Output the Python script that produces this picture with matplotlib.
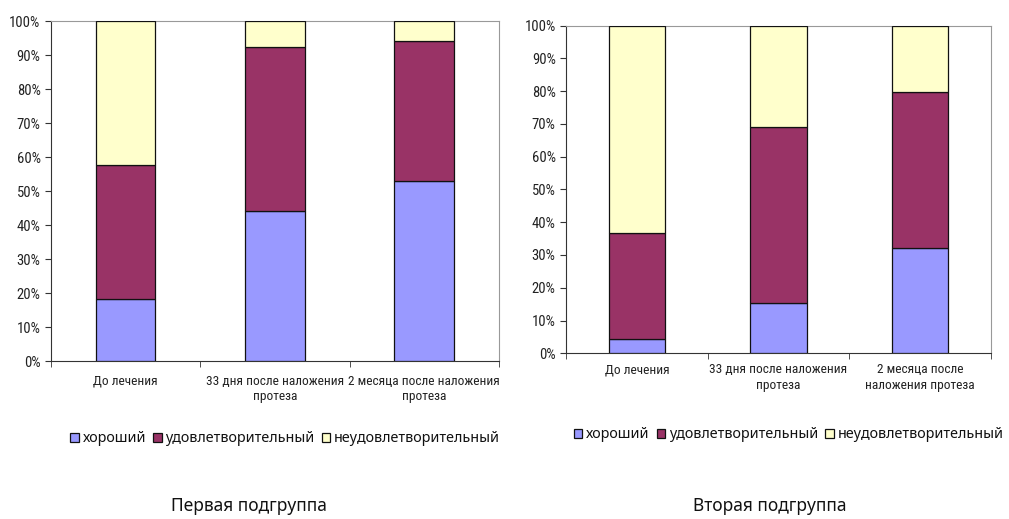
import numpy as np
import matplotlib.pyplot as plt
from matplotlib.ticker import PercentFormatter
from matplotlib import font_manager

categories_1 = ['До лечения', '33 дня после наложения\nпротеза', '2 месяца после наложения\nпротеза']
categories_2 = ['До лечения', '33 дня после наложения\nпротеза', '2 месяца после\nналожения протеза']

# доли оценок, %
good_1 = [18.1, 44.0, 52.9]
fair_1 = [39.5, 48.5, 41.1]
poor_1 = [42.4, 7.5, 6.0]

good_2 = [4.3, 15.3, 32.1]
fair_2 = [32.3, 53.7, 47.7]
poor_2 = [63.4, 31.0, 20.2]

series_names = ['хороший', 'удовлетворительный', 'неудовлетворительный']
colors = ['#9999FF', '#993366', '#FFFFCC']
titles = ['Первая подгруппа', 'Вторая подгруппа']

names = {f.name for f in font_manager.fontManager.ttflist}
tick_font = 'Liberation Sans'
for cand in ['Liberation Sans Narrow', 'Roboto Condensed', 'Open Sans Condensed']:
    if cand in names:
        tick_font = cand
        break
narrow = tick_font != 'Liberation Sans'
tick_size = 9.6 if narrow else 8.6
ytick_size = 10.5 if narrow else 9.5

fig = plt.figure(figsize=(10.09, 5.19), dpi=100)


def draw(rect, cats, good, fair, poor, legend_y, title, title_x, xpad):
    ax = fig.add_axes(rect)
    x = np.arange(len(cats))
    bottom = np.zeros(len(cats))
    for vals, col, name in zip([good, fair, poor], colors, series_names):
        ax.bar(x, vals, 0.4, bottom=bottom, color=col, edgecolor='#111111',
               linewidth=0.9, label=name, zorder=3)
        bottom += np.array(vals)
    ax.set_xlim(-0.5, len(cats) - 0.5)
    ax.set_ylim(0, 100)
    ax.set_yticks(np.arange(0, 101, 10))
    ax.yaxis.set_major_formatter(PercentFormatter(decimals=0))
    ax.set_xticks(x)
    ax.set_xticklabels(cats, fontfamily=tick_font, fontsize=tick_size, color='#222222',
                       linespacing=1.25)
    ax.set_xticks(np.arange(-0.5, len(cats)), minor=True)
    ax.tick_params(axis='x', which='major', length=0, pad=xpad)
    ax.tick_params(axis='x', which='minor', length=4, direction='out', color='#333333')
    ax.tick_params(axis='y', length=4, direction='out', color='#333333',
                   labelsize=ytick_size, labelcolor='#222222')
    for lab in ax.get_yticklabels():
        lab.set_fontfamily(tick_font)
    for s in ['left', 'bottom']:
        ax.spines[s].set_color('#333333')
    for s in ['top', 'right']:
        ax.spines[s].set_color('#999999')
    leg = fig.legend(*ax.get_legend_handles_labels(), loc='center',
                     bbox_to_anchor=(rect[0] + rect[2] / 2 + 0.01, legend_y), ncol=3,
                     frameon=False, handlelength=0.6, handleheight=0.6,
                     handletextpad=0.25, columnspacing=0.5,
                     prop={'family': 'Noto Sans', 'size': 10.3})
    for t in leg.get_texts():
        t.set_color('#111111')
    fig.text(title_x, 0.008, title, ha='center', va='bottom', fontfamily='Noto Sans',
             fontsize=12.5, color='#111111')
    return ax


draw([0.0505, 0.3044, 0.444, 0.655], categories_1, good_1, fair_1, poor_1,
     1 - 439 / 519, titles[0], 249 / 1009, 10)
draw([0.561, 0.3193, 0.421, 0.6314], categories_2, good_2, fair_2, poor_2,
     1 - 435 / 519, titles[1], 770 / 1009, 7)

fig.savefig('out.png', dpi=100)
